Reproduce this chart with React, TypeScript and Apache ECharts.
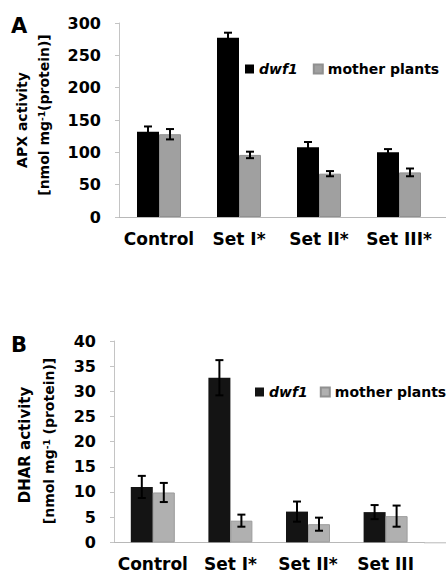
import React, { useEffect, useRef } from "react";
import * as echarts from "echarts";

const categoriesA = ["Control", "Set I*", "Set II*", "Set III*"];
const categoriesB = ["Control", "Set I*", "Set II*", "Set III"];
const seriesNames = ["dwf1", "mother plants"];

const apxDwf1 = [132, 277, 108, 100];
const apxDwf1Err = [8, 8, 8, 5];
const apxMother = [128, 96, 67, 69];
const apxMotherErr = [8, 5, 4, 6];

const dharDwf1 = [11.0, 32.7, 6.1, 6.0];
const dharDwf1Err = [2.2, 3.5, 2.0, 1.4];
const dharMother = [9.9, 4.3, 3.6, 5.2];
const dharMotherErr = [1.9, 1.2, 1.3, 2.1];

const apxTicks = [0, 50, 100, 150, 200, 250, 300];
const dharTicks = [0, 5, 10, 15, 20, 25, 30, 35, 40];

const FONT = "DejaVu Sans";
const BAR_W = 22;

function errSeries(gridIdx: number, vals: number[], errs: number[], offset: number) {
  return {
    type: "custom",
    xAxisIndex: gridIdx,
    yAxisIndex: gridIdx,
    silent: true,
    z: 10,
    data: vals.map((v, i) => [i, v, errs[i]]),
    encode: { x: 0, y: 1 },
    renderItem: (params: any, api: any) => {
      const i = api.value(0);
      const v = api.value(1);
      const e = api.value(2);
      const top = api.coord([i, v + e]);
      const bot = api.coord([i, v - e]);
      const cx = top[0] + offset;
      const cap = 4;
      const st = { stroke: "#000", lineWidth: 2 };
      return {
        type: "group",
        children: [
          { type: "line", shape: { x1: cx, y1: top[1], x2: cx, y2: bot[1] }, style: st },
          { type: "line", shape: { x1: cx - cap, y1: top[1], x2: cx + cap, y2: top[1] }, style: st },
          { type: "line", shape: { x1: cx - cap, y1: bot[1], x2: cx + cap, y2: bot[1] }, style: st },
        ],
      };
    },
  };
}

export default function App() {
  const ref = useRef<HTMLDivElement>(null);
  useEffect(() => {
    if (!ref.current) return;
    const chart = echarts.init(ref.current, null, { renderer: "svg" });
    const axisLabel = { fontFamily: FONT, fontWeight: "bold", fontSize: 16, color: "#000", margin: 18 };
    const catLabel = { fontFamily: FONT, fontWeight: "bold", fontSize: 17, color: "#000", interval: 0 };
    const legendText = { fontFamily: FONT, fontWeight: "bold", fontSize: 14, color: "#000" };
    const option: any = {
      animation: false,
      backgroundColor: "#fff",
      grid: [
        { left: 119, top: 23, width: 320, height: 194 },
        { left: 114, top: 341, width: 310.4, height: 201.3 },
      ],
      legend: [
        {
          orient: "horizontal", left: 245, top: 62, width: 260, padding: 0, itemWidth: 9, itemHeight: 9, itemGap: 15,
          icon: "rect", textStyle: legendText, selectedMode: false,
          data: [{ name: "dwf1", textStyle: { fontStyle: "italic" }, itemStyle: { color: "#000" } }, { name: "mother plants", itemStyle: { color: "#a0a0a0" } }],
        },
        {
          orient: "horizontal", left: 255, top: 385, width: 260, padding: 0, itemWidth: 9, itemHeight: 9, itemGap: 12,
          icon: "rect", textStyle: legendText, selectedMode: false,
          data: [{ name: "dwf1", textStyle: { fontStyle: "italic" }, itemStyle: { color: "#141414" } }, { name: "mother plants", itemStyle: { color: "#b0b0b0" } }],
        },
      ],
      xAxis: [
        {
          type: "category", gridIndex: 0, data: categoriesA,
          axisLine: { lineStyle: { color: "#b8b8b8", width: 1 } },
          axisTick: { show: false },
          axisLabel: { ...catLabel, margin: 13 },
        },
        {
          type: "category", gridIndex: 1, data: categoriesB,
          axisLine: { lineStyle: { color: "#b8b8b8", width: 1 } },
          axisTick: { show: false },
          axisLabel: { ...catLabel, margin: 13 },
        },
      ],
      yAxis: [
        {
          type: "value", gridIndex: 0, min: apxTicks[0], max: apxTicks[apxTicks.length - 1], interval: 50,
          axisLine: { show: true, lineStyle: { color: "#c4c4c4" } },
          axisTick: { show: true, length: 4, lineStyle: { color: "#c4c4c4" } },
          splitLine: { show: false },
          axisLabel,
        },
        {
          type: "value", gridIndex: 1, min: dharTicks[0], max: dharTicks[dharTicks.length - 1], interval: 5,
          axisLine: { show: true, lineStyle: { color: "#c4c4c4" } },
          axisTick: { show: true, length: 4, lineStyle: { color: "#c4c4c4" } },
          splitLine: { show: false },
          axisLabel,
        },
      ],
      series: [
        { name: seriesNames[0], type: "bar", xAxisIndex: 0, yAxisIndex: 0, data: apxDwf1, barWidth: BAR_W, barGap: "0%", itemStyle: { color: "#000" } },
        { name: seriesNames[1], type: "bar", xAxisIndex: 0, yAxisIndex: 0, data: apxMother, barWidth: BAR_W, barGap: "0%", itemStyle: { color: "#a0a0a0", borderColor: "#909090", borderWidth: 1 } },
        { name: seriesNames[0], type: "bar", xAxisIndex: 1, yAxisIndex: 1, data: dharDwf1, barWidth: BAR_W, barGap: "0%", itemStyle: { color: "#141414" } },
        { name: seriesNames[1], type: "bar", xAxisIndex: 1, yAxisIndex: 1, data: dharMother, barWidth: BAR_W, barGap: "0%", itemStyle: { color: "#b0b0b0", borderColor: "#9c9c9c", borderWidth: 1 } },
        errSeries(0, apxDwf1, apxDwf1Err, -BAR_W / 2),
        errSeries(0, apxMother, apxMotherErr, BAR_W / 2),
        errSeries(1, dharDwf1, dharDwf1Err, -BAR_W / 2),
        errSeries(1, dharMother, dharMotherErr, BAR_W / 2),
      ],
      graphic: [
        { type: "line", shape: { x1: 439, y1: 217.5, x2: 446, y2: 217.5 }, style: { stroke: "#b8b8b8", lineWidth: 1 } },
        { type: "line", shape: { x1: 424, y1: 542.8, x2: 446, y2: 542.8 }, style: { stroke: "#b8b8b8", lineWidth: 1 } },
        { type: "text", left: 11, top: 15, style: { text: "A", fontFamily: FONT, fontWeight: "bold", fontSize: 21, fill: "#000" } },
        { type: "text", left: 11, top: 334, style: { text: "B", fontFamily: FONT, fontWeight: "bold", fontSize: 21, fill: "#000" } },
        {
          type: "text", x: 22, y: 120, rotation: Math.PI / 2,
          style: { text: "APX activity", fontFamily: FONT, fontWeight: "bold", fontSize: 14, fill: "#000", align: "center", verticalAlign: "middle" },
        },
        {
          type: "text", x: 44, y: 115, rotation: Math.PI / 2,
          style: {
            text: "{a|[nmol mg}{s|-1}{a|(protein)]}", align: "center", verticalAlign: "middle",
            rich: {
              a: { fontFamily: FONT, fontWeight: "bold", fontSize: 14, fill: "#000", color: "#000" },
              s: { fontFamily: FONT, fontWeight: "bold", fontSize: 9, fill: "#000", color: "#000", verticalAlign: "top" },
            },
          },
        },
        {
          type: "text", x: 25, y: 445, rotation: Math.PI / 2,
          style: { text: "DHAR activity", fontFamily: FONT, fontWeight: "bold", fontSize: 15, fill: "#000", align: "center", verticalAlign: "middle" },
        },
        {
          type: "text", x: 49, y: 441, rotation: Math.PI / 2,
          style: {
            text: "{a|[nmol mg}{s|-1}{a| (protein)]}", align: "center", verticalAlign: "middle",
            rich: {
              a: { fontFamily: FONT, fontWeight: "bold", fontSize: 14, fill: "#000", color: "#000" },
              s: { fontFamily: FONT, fontWeight: "bold", fontSize: 9, fill: "#000", color: "#000", verticalAlign: "top" },
            },
          },
        },
      ],
    };
    chart.setOption(option);
    return () => chart.dispose();
  }, []);
  return <div ref={ref} style={{ position: "absolute", left: 0, top: 0, width: 448, height: 574 }} />;
}
